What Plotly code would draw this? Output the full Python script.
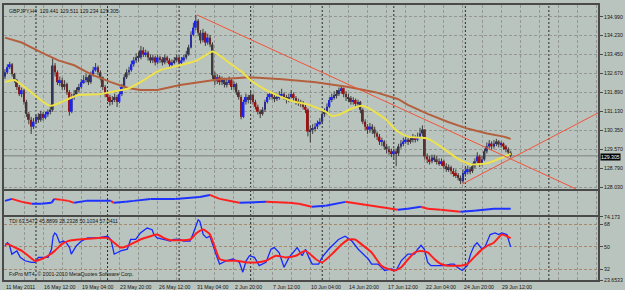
import plotly.graph_objects as go
from plotly.subplots import make_subplots

# ---------------- data ----------------
first_open = 132.55
close = [
    132.72, 132.93, 133.05, 132.65, 132.40, 132.12, 131.83, 131.99, 131.51, 131.02,
    130.78, 130.50, 130.70, 130.90, 130.78, 131.02, 130.86, 131.00, 131.11, 131.19,
    133.00, 132.72, 132.32, 132.40, 132.12, 132.24, 131.91, 131.11, 131.71, 131.83,
    131.99, 132.12, 132.32, 132.40, 132.52, 132.32, 132.64, 132.81, 132.93, 132.72,
    132.52, 132.12, 131.83, 131.71, 131.51, 131.59, 131.71, 131.51, 131.83, 132.12,
    132.52, 132.72, 132.81, 133.05, 133.21, 133.33, 133.33, 133.62, 133.45, 133.53,
    133.33, 133.21, 133.33, 133.13, 133.33, 133.25, 133.13, 133.33, 133.21, 133.05,
    133.13, 133.21, 133.33, 133.13, 133.21, 133.33, 133.45, 133.74, 134.26, 134.55,
    134.83, 134.34, 134.03, 134.34, 133.94, 134.14, 133.86, 132.60, 132.36, 132.52,
    132.32, 132.44, 132.24, 132.32, 132.40, 132.12, 132.24, 131.91, 131.71, 130.90,
    131.51, 131.71, 131.59, 131.79, 131.51, 131.31, 131.11, 131.02, 131.19, 131.51,
    131.71, 131.83, 131.71, 131.63, 131.71, 131.79, 131.83, 131.71, 131.59, 131.71,
    131.83, 131.67, 131.51, 131.51, 131.43, 131.31, 131.19, 130.30, 130.38, 130.42,
    130.50, 130.63, 130.70, 131.02, 131.11, 131.31, 131.59, 131.71, 131.79, 131.83,
    131.99, 132.07, 131.83, 131.71, 131.67, 131.51, 131.59, 131.43, 131.51, 131.19,
    130.70, 130.50, 130.38, 130.50, 130.38, 130.22, 130.09, 129.89, 129.89, 129.69,
    129.57, 129.49, 129.41, 129.49, 129.41, 129.69, 129.81, 129.89, 129.97, 129.89,
    129.97, 130.05, 129.97, 130.09, 130.22, 130.38, 129.28, 129.16, 129.08, 129.24,
    129.16, 129.08, 129.00, 129.08, 128.88, 128.76, 128.84, 128.68, 128.60, 128.52,
    128.40, 128.27, 128.60, 128.68, 128.76, 128.68, 128.88, 129.08, 129.28, 129.00,
    129.16, 129.49, 129.69, 129.81, 129.69, 129.81, 129.89, 129.77, 129.81, 129.69,
    129.57, 129.441, 129.305,
]
high = [
    132.85, 133.05, 133.15, 133.10, 132.70, 132.45, 132.20, 132.10, 132.05, 131.60,
    131.10, 130.90, 130.85, 131.00, 131.05, 131.15, 131.10, 131.10, 131.20, 131.40,
    133.30, 133.10, 132.80, 132.55, 132.50, 132.40, 132.30, 132.00, 131.85, 132.00,
    132.10, 132.25, 132.45, 132.60, 132.65, 132.60, 132.75, 132.95, 133.10, 133.00,
    132.80, 132.55, 132.20, 131.95, 131.80, 131.75, 131.85, 131.80, 131.95, 132.25,
    132.65, 132.85, 132.95, 133.20, 133.35, 133.50, 133.55, 133.80, 133.75, 133.65,
    133.60, 133.45, 133.45, 133.40, 133.45, 133.40, 133.35, 133.45, 133.40, 133.30,
    133.25, 133.35, 133.45, 133.40, 133.35, 133.45, 133.60, 133.85, 134.40, 134.75,
    135.07, 134.90, 134.45, 134.50, 134.40, 134.30, 134.25, 133.95, 132.75, 132.65,
    132.60, 132.55, 132.50, 132.45, 132.55, 132.45, 132.35, 132.30, 132.00, 131.80,
    131.60, 131.85, 131.80, 131.95, 131.85, 131.60, 131.40, 131.20, 131.30, 131.60,
    131.85, 131.95, 131.90, 131.80, 131.85, 131.95, 132.05, 131.90, 131.80, 131.85,
    132.00, 131.90, 131.75, 131.65, 131.60, 131.55, 131.40, 131.25, 130.55, 130.60,
    130.65, 130.75, 130.85, 131.15, 131.25, 131.45, 131.70, 131.85, 131.95, 132.00,
    132.10, 132.20, 132.10, 131.95, 131.85, 131.75, 131.70, 131.65, 131.60, 131.55,
    131.25, 130.80, 130.60, 130.65, 130.60, 130.50, 130.30, 130.20, 130.05, 129.95,
    129.80, 129.70, 129.60, 129.60, 129.60, 129.80, 129.95, 130.05, 130.10, 130.05,
    130.10, 130.20, 130.15, 130.25, 130.45, 130.55, 130.40, 129.40, 129.30, 129.35,
    129.35, 129.30, 129.20, 129.20, 129.15, 129.00, 128.95, 128.90, 128.80, 128.75,
    128.60, 128.50, 128.75, 128.80, 128.90, 128.85, 129.00, 129.20, 129.45, 129.35,
    129.30, 129.60, 129.85, 129.95, 129.90, 129.95, 130.00, 129.95, 129.90, 129.85,
    129.75, 129.65, 129.511,
]
low = [
    132.45, 132.65, 132.85, 132.55, 132.30, 132.00, 131.75, 131.70, 131.40, 130.90,
    130.60, 130.20, 130.40, 130.60, 130.65, 130.70, 130.75, 130.80, 130.90, 131.00,
    131.10, 132.55, 132.20, 132.15, 132.00, 132.00, 131.80, 130.95, 131.05, 131.60,
    131.80, 131.90, 132.05, 132.25, 132.30, 132.20, 132.25, 132.55, 132.75, 132.60,
    132.40, 132.00, 131.70, 131.55, 131.35, 131.40, 131.50, 131.30, 131.45, 131.75,
    132.05, 132.45, 132.60, 132.75, 132.95, 133.10, 133.15, 133.25, 133.35, 133.35,
    133.20, 133.10, 133.10, 133.00, 133.05, 133.10, 133.00, 133.05, 133.10, 132.95,
    132.95, 133.05, 133.15, 133.05, 133.05, 133.15, 133.25, 133.40, 133.70, 134.20,
    134.45, 134.20, 133.90, 133.95, 133.80, 133.85, 133.75, 132.45, 132.20, 132.25,
    132.20, 132.20, 132.10, 132.10, 132.20, 132.00, 132.00, 131.80, 131.60, 130.80,
    130.85, 131.40, 131.45, 131.50, 131.40, 131.20, 131.00, 130.85, 130.95, 131.10,
    131.45, 131.60, 131.60, 131.50, 131.55, 131.60, 131.70, 131.60, 131.45, 131.50,
    131.65, 131.55, 131.40, 131.35, 131.30, 131.20, 131.05, 130.10, 129.85, 130.20,
    130.30, 130.40, 130.55, 130.60, 130.90, 131.00, 131.25, 131.50, 131.60, 131.65,
    131.75, 131.85, 131.70, 131.55, 131.50, 131.40, 131.40, 131.30, 131.30, 131.05,
    130.60, 130.35, 130.20, 130.25, 130.20, 130.05, 129.95, 129.75, 129.70, 129.55,
    129.40, 129.35, 129.25, 129.20, 128.88, 129.30, 129.60, 129.70, 129.80, 129.75,
    129.80, 129.85, 129.85, 129.90, 130.00, 130.10, 129.15, 129.00, 128.95, 129.00,
    129.05, 128.95, 128.90, 128.90, 128.75, 128.65, 128.65, 128.55, 128.45, 128.40,
    128.30, 128.15, 128.20, 128.45, 128.55, 128.55, 128.60, 128.80, 129.00, 128.85,
    128.90, 129.10, 129.40, 129.60, 129.55, 129.60, 129.70, 129.65, 129.65, 129.55,
    129.45, 129.35, 129.234,
]

ma_fast_bar = [0, 4.1, 12.4, 19, 26.6, 30.7, 40.2, 46, 51.5, 56.8, 65.1, 73.4, 80.5, 85.9, 87.1,
               90, 95.4, 99.6, 102.5, 109.5, 115, 120.3, 127.4, 134.4, 137, 139.8, 145.2, 149.4,
               152.3, 159.3, 164.7, 168.9, 177.2, 182.6, 189.6, 195, 202, 207.5, 212]
ma_fast_val = [132.32, 132.40, 131.79, 131.35, 131.63, 131.79, 131.83, 131.95, 132.05, 132.32,
               132.81, 133.01, 133.21, 133.53, 133.57, 133.41, 133.01, 132.72, 132.44, 131.99,
               131.75, 131.55, 131.39, 131.11, 130.94, 130.98, 131.23, 131.35, 131.27, 130.82,
               130.30, 130.09, 130.01, 129.69, 129.20, 128.96, 129.00, 129.20, 129.39]

ma_slow_bar = [0, 7, 15.4, 22.4, 29, 36.1, 44.4, 51.5, 56.8, 63.9, 73.4, 81.7, 90, 102.5, 116.2,
               130.3, 144, 155.2, 164.7, 168.9, 177.2, 185.5, 193.8, 202.1, 209.1, 212]
ma_slow_val = [134.14, 133.94, 133.53, 133.21, 133.01, 132.64, 132.32, 132.08, 132.00, 132.00,
               132.20, 132.32, 132.44, 132.52, 132.44, 132.32, 132.12, 131.91, 131.63, 131.39,
               131.02, 130.70, 130.42, 130.22, 130.09, 130.00]

trend_down_bar = [80.5, 239.4]
trend_down_val = [135.07, 127.95]
trend_up_bar = [191.7, 248.6]
trend_up_val = [128.15, 131.06]

bid_price = 129.305

osc_bar = [0, 2.9, 7.1, 11.2, 15.4, 19.5, 20.7, 23.7, 26.6, 29, 34, 40.2, 44.4, 45.6, 50.6, 54, 61,
           71.4, 81.7, 85.9, 90, 98.3, 109.5, 119, 123.2, 128.6, 134.4, 142.7, 151, 159.3, 164.7,
           168.9, 174.3, 177.2, 182.6, 190.9, 196.7, 205, 212]
osc_val = [14, 16, 13, 11, 11, 12, 16, 15, 14, 12, 14, 14, 14, 12, 13, 14, 16, 16, 18, 20, 16, 12,
           13, 12, 11, 8, 9, 13, 10, 7, 5, 6, 8, 6, 5, 3, 4, 6, 6]

tdi_price_bar = [0, 1.0, 1.8, 2.9, 5, 6.4, 8.4, 11.2, 12.6, 14, 16, 18.1, 19.5, 20.2, 20.9, 21.6,
                 22.9, 24.4, 25.7, 27.1, 27.8, 28.5, 29.9, 32, 33.3, 34.7, 38.9, 43, 44.4, 45.8,
                 47.2, 48.5, 51.3, 52.7, 54.8, 56.8, 59.6, 61.7, 62.4, 63.8, 66.5, 69.3, 70.7,
                 73.4, 74.8, 77.6, 79, 81, 81.7, 83.1, 84.5, 85.9, 88.7, 90, 92.8, 95.6, 97, 98.3,
                 99.7, 101.1, 102.5, 104.6, 106.6, 109.4, 111.5, 112.9, 114.9, 117, 119.1, 122.5,
                 124.6, 126, 127.4, 128.8, 131.5, 132.9, 135.7, 137.1, 139.8, 142.6, 145.4, 148.1,
                 150.9, 152.3, 153.7, 156.4, 159.2, 162, 164, 166.1, 168.9, 171.7, 173, 174.4,
                 175.8, 177.2, 178.6, 181.3, 184.1, 186.9, 188.3, 189.6, 191.7, 193.8, 195.2,
                 196.6, 197.9, 200, 201.4, 203.4, 205.5, 206.9, 208.3, 210.4, 212]
tdi_price_val = [50.8, 53.4, 52.1, 44.3, 46.9, 41.7, 39.0, 37.7, 37.7, 41.7, 41.7, 41.7, 48.2, 58.6,
                 61.2, 59.9, 53.4, 54.7, 53.4, 49.5, 44.3, 46.9, 50.8, 54.7, 56.0, 57.3, 57.3, 58.6,
                 56.0, 44.3, 45.6, 46.9, 48.2, 56.0, 56.0, 61.2, 65.1, 63.8, 60.0, 57.3, 56.0, 54.7,
                 56.0, 56.0, 54.7, 54.7, 61.2, 71.7, 70.5, 60.0, 57.3, 58.6, 43.0, 36.4, 39.0, 40.4,
                 39.0, 37.7, 29.9, 39.0, 43.0, 41.7, 35.1, 37.7, 48.2, 49.5, 45.6, 33.8, 41.7, 49.5,
                 43.0, 48.2, 41.7, 36.4, 36.4, 41.7, 48.2, 50.8, 56.0, 58.6, 54.7, 48.2, 43.0, 40.4,
                 36.4, 36.4, 31.2, 32.5, 31.2, 39.0, 44.3, 44.3, 48.2, 51.3, 48.2, 37.7, 35.1, 35.1,
                 35.1, 36.4, 36.4, 33.8, 31.2, 35.1, 44.3, 50.8, 53.4, 48.2, 50.8, 59.9, 61.2, 59.9,
                 61.2, 59.9, 50.1]

tdi_signal_bar = [0, 1.5, 4.3, 7.1, 9.8, 12.6, 15.4, 18.1, 20.9, 23.7, 26.4, 30.6, 34.7, 40.2, 43,
                  45.8, 48.5, 51.3, 54.1, 56.8, 61, 63.8, 66.5, 69.3, 73.4, 77.6, 80.4, 83.1, 85.9,
                  87.3, 90, 92.8, 97, 101.1, 105.3, 109.4, 113.6, 117.7, 121.9, 126, 130.2, 132.9,
                  137.1, 141.2, 144, 146.8, 149.5, 153.7, 157.8, 160.6, 163.4, 166.1, 168.9, 171.7,
                  174.4, 177.2, 180, 182.8, 185.5, 188.3, 191, 193.8, 196.6, 199.3, 202.1, 204.9,
                  208.3, 210.4, 212]
tdi_signal_val = [52.1, 52.1, 49.5, 46.9, 43.0, 39.0, 40.4, 43.0, 46.9, 52.1, 54.7, 56.0, 56.5, 57.3,
                  57.3, 53.4, 49.5, 50.8, 53.4, 56.0, 58.6, 59.9, 57.3, 55.4, 55.4, 56.0, 61.2, 64.0,
                  60.0, 53.4, 40.4, 39.0, 39.0, 37.7, 37.7, 39.0, 43.0, 41.7, 43.0, 46.9, 40.4, 37.7,
                  44.3, 52.1, 56.0, 56.0, 52.1, 45.6, 35.1, 32.5, 31.2, 33.8, 40.0, 45.6, 46.9, 45.6,
                  40.4, 36.4, 35.1, 35.1, 35.1, 36.4, 41.7, 46.9, 50.8, 53.4, 59.9, 58.6, 57.0]

price_ticks = [134.990, 134.230, 133.450, 132.670, 131.890, 131.130, 130.350, 129.570, 128.790, 128.030]
tdi_ticks = [74.173, 68, 50, 32, 23.6533]
tdi_tick_text = ["74.173", "68", "50", "32", "23.6533"]

week_sep_bars = [13, 43, 73, 103, 133, 163, 193, 228]
date_bars = [0, 16, 32, 48, 64, 80, 96, 112, 128, 144, 160, 176, 192, 208]
date_labels = ["11 May 2011", "16 May 12:00", "19 May 04:00", "23 May 20:00", "26 May 12:00",
               "31 May 04:00", "2 Jun 20:00", "7 Jun 12:00", "10 Jun 04:00", "14 Jun 20:00",
               "17 Jun 12:00", "22 Jun 04:00", "24 Jun 20:00", "29 Jun 12:00"]

header_text = "GBPJPY,H4  129.441 129.511 129.234 129.305"
tdi_text = "TDI 63.5472 45.8899 28.2328 50.1034 57.0411"
footer_text = "FxPro MT4, \u00a9 2001-2010 MetaQuotes Software Corp."

# ---------------- styling ----------------
BG = "#bac4be"
FRAME = "#4a4a4a"
GRID = "#959794"
TDI_GRID = "#a8886c"
SEP = "#2a2a2a"
WICK = "#3c3c3c"
BULL = "#1a22f0"
BEAR = "#a41010"
FONT = "Liberation Sans, Arial, sans-serif"
FS = 5.2
TXT = "#151515"

n = len(close)
if not (len(high) == n and len(low) == n):
    raise ValueError("length mismatch %d %d %d" % (len(close), len(high), len(low)))
idx = list(range(n))
opens = [first_open] + close[:-1]

fig = make_subplots(rows=3, cols=1, shared_xaxes=True, vertical_spacing=0.0)

# wicks
wx, wy = [], []
for i in idx:
    wx += [i, i, None]
    wy += [low[i], high[i], None]
fig.add_trace(go.Scatter(x=wx, y=wy, mode="lines", line=dict(color=WICK, width=1),
                         hoverinfo="skip"), row=1, col=1)
# bodies
base = [min(o, c) for o, c in zip(opens, close)]
hgt = [max(abs(c - o), 0.025) for o, c in zip(opens, close)]
col = [BULL if c >= o else BEAR for o, c in zip(opens, close)]
fig.add_trace(go.Bar(x=idx, y=hgt, base=base, width=0.8,
                     marker=dict(color=col, line=dict(width=0))), row=1, col=1)

# moving averages
fig.add_trace(go.Scatter(x=ma_slow_bar, y=ma_slow_val, mode="lines",
                         line=dict(color="#b4603e", width=2)), row=1, col=1)
fig.add_trace(go.Scatter(x=ma_fast_bar, y=ma_fast_val, mode="lines",
                         line=dict(color="#eee24a", width=2, shape="spline", smoothing=0.6)), row=1, col=1)
# trend lines
fig.add_trace(go.Scatter(x=trend_down_bar, y=trend_down_val, mode="lines",
                         line=dict(color="#f2543a", width=1)), row=1, col=1)
fig.add_trace(go.Scatter(x=trend_up_bar, y=trend_up_val, mode="lines",
                         line=dict(color="#f2543a", width=1)), row=1, col=1)

# middle oscillator, colored by direction
bx, by, rx, ry = [], [], [], []
for i in range(len(osc_bar) - 1):
    seg_x = [osc_bar[i], osc_bar[i + 1], None]
    seg_y = [osc_val[i], osc_val[i + 1], None]
    if osc_val[i + 1] >= osc_val[i]:
        bx += seg_x; by += seg_y
    else:
        rx += seg_x; ry += seg_y
fig.add_trace(go.Scatter(x=rx, y=ry, mode="lines", line=dict(color="#ff2020", width=2)), row=2, col=1)
fig.add_trace(go.Scatter(x=bx, y=by, mode="lines", line=dict(color="#1e32ff", width=2)), row=2, col=1)

# TDI
fig.add_trace(go.Scatter(x=tdi_price_bar, y=tdi_price_val, mode="lines",
                         line=dict(color="#1428ff", width=1.3)), row=3, col=1)
fig.add_trace(go.Scatter(x=tdi_signal_bar, y=tdi_signal_val, mode="lines",
                         line=dict(color="#ff1e1e", width=2, shape="spline", smoothing=0.5)), row=3, col=1)

# layout
xr = [-0.4, 248.6]
axis_common = dict(showline=True, mirror=True, linecolor=FRAME, linewidth=2, zeroline=False)
for k in ["xaxis", "xaxis2", "xaxis3"]:
    fig.layout[k].update(range=xr, tick0=0, dtick=8, showticklabels=False, ticks="",
                         showgrid=True, gridcolor=GRID, griddash="3px,2px", gridwidth=1,
                         **axis_common)

fig.update_layout(
    yaxis=dict(domain=[0.331, 1.0], range=[127.949, 135.476], side="right",
               tickvals=price_ticks, ticktext=["%.3f" % v for v in price_ticks],
               ticks="outside", ticklen=3, tickcolor=FRAME, showgrid=True,
               gridcolor=GRID, griddash="3px,2px", **axis_common),
    yaxis2=dict(domain=[0.2374, 0.3237], range=[0, 24], side="right", showticklabels=False,
                ticks="", showgrid=False, **axis_common),
    yaxis3=dict(domain=[0.0, 0.2302], range=[23.6533, 74.173], side="right",
                tickvals=tdi_ticks, ticktext=tdi_tick_text, ticks="outside", ticklen=3,
                tickcolor=FRAME, showgrid=True, gridcolor=TDI_GRID, griddash="3px,2px",
                **axis_common),
    width=625, height=290,
    margin=dict(l=2, r=23, t=2, b=10),
    paper_bgcolor=BG, plot_bgcolor=BG,
    showlegend=False, hovermode=False, barmode="overlay",
    font=dict(family=FONT, size=FS, color=TXT),
)

shapes = []
for b in week_sep_bars:
    shapes.append(dict(type="line", xref="x", yref="paper", x0=b, x1=b, y0=0, y1=1,
                       line=dict(color=SEP, width=1, dash="2px,2px"), layer="between"))
shapes.append(dict(type="line", xref="paper", yref="y", x0=0, x1=1, y0=bid_price, y1=bid_price,
                   line=dict(color="#7c7f7c", width=1), layer="between"))
fig.update_layout(shapes=shapes)

ann = []
for b, t in zip(date_bars, date_labels):
    ann.append(dict(x=b, y=-0.006, xref="x3", yref="paper", text=t, showarrow=False,
                    xanchor="left", yanchor="top", xshift=-1,
                    font=dict(family=FONT, size=FS, color=TXT)))
ann.append(dict(x=0.005, y=0.978, xref="paper", yref="paper", text=header_text, showarrow=False,
                xanchor="left", yanchor="middle", font=dict(family=FONT, size=FS, color=TXT)))
ann.append(dict(x=0.005, y=0.216, xref="paper", yref="paper", text=tdi_text, showarrow=False,
                xanchor="left", yanchor="middle", font=dict(family=FONT, size=FS, color=TXT)))
ann.append(dict(x=0.005, y=0.0216, xref="paper", yref="paper", text=footer_text, showarrow=False,
                xanchor="left", yanchor="middle", font=dict(family=FONT, size=FS, color=TXT)))
ann.append(dict(x=1.0, y=bid_price, xref="paper", yref="y", text="%.3f" % bid_price,
                showarrow=False, xanchor="left", yanchor="middle", xshift=2, yshift=-1,
                bgcolor="#000000", borderpad=0, font=dict(family=FONT, size=FS, color="#ffffff")))
fig.update_layout(annotations=ann)

fig.write_html("out.html")
